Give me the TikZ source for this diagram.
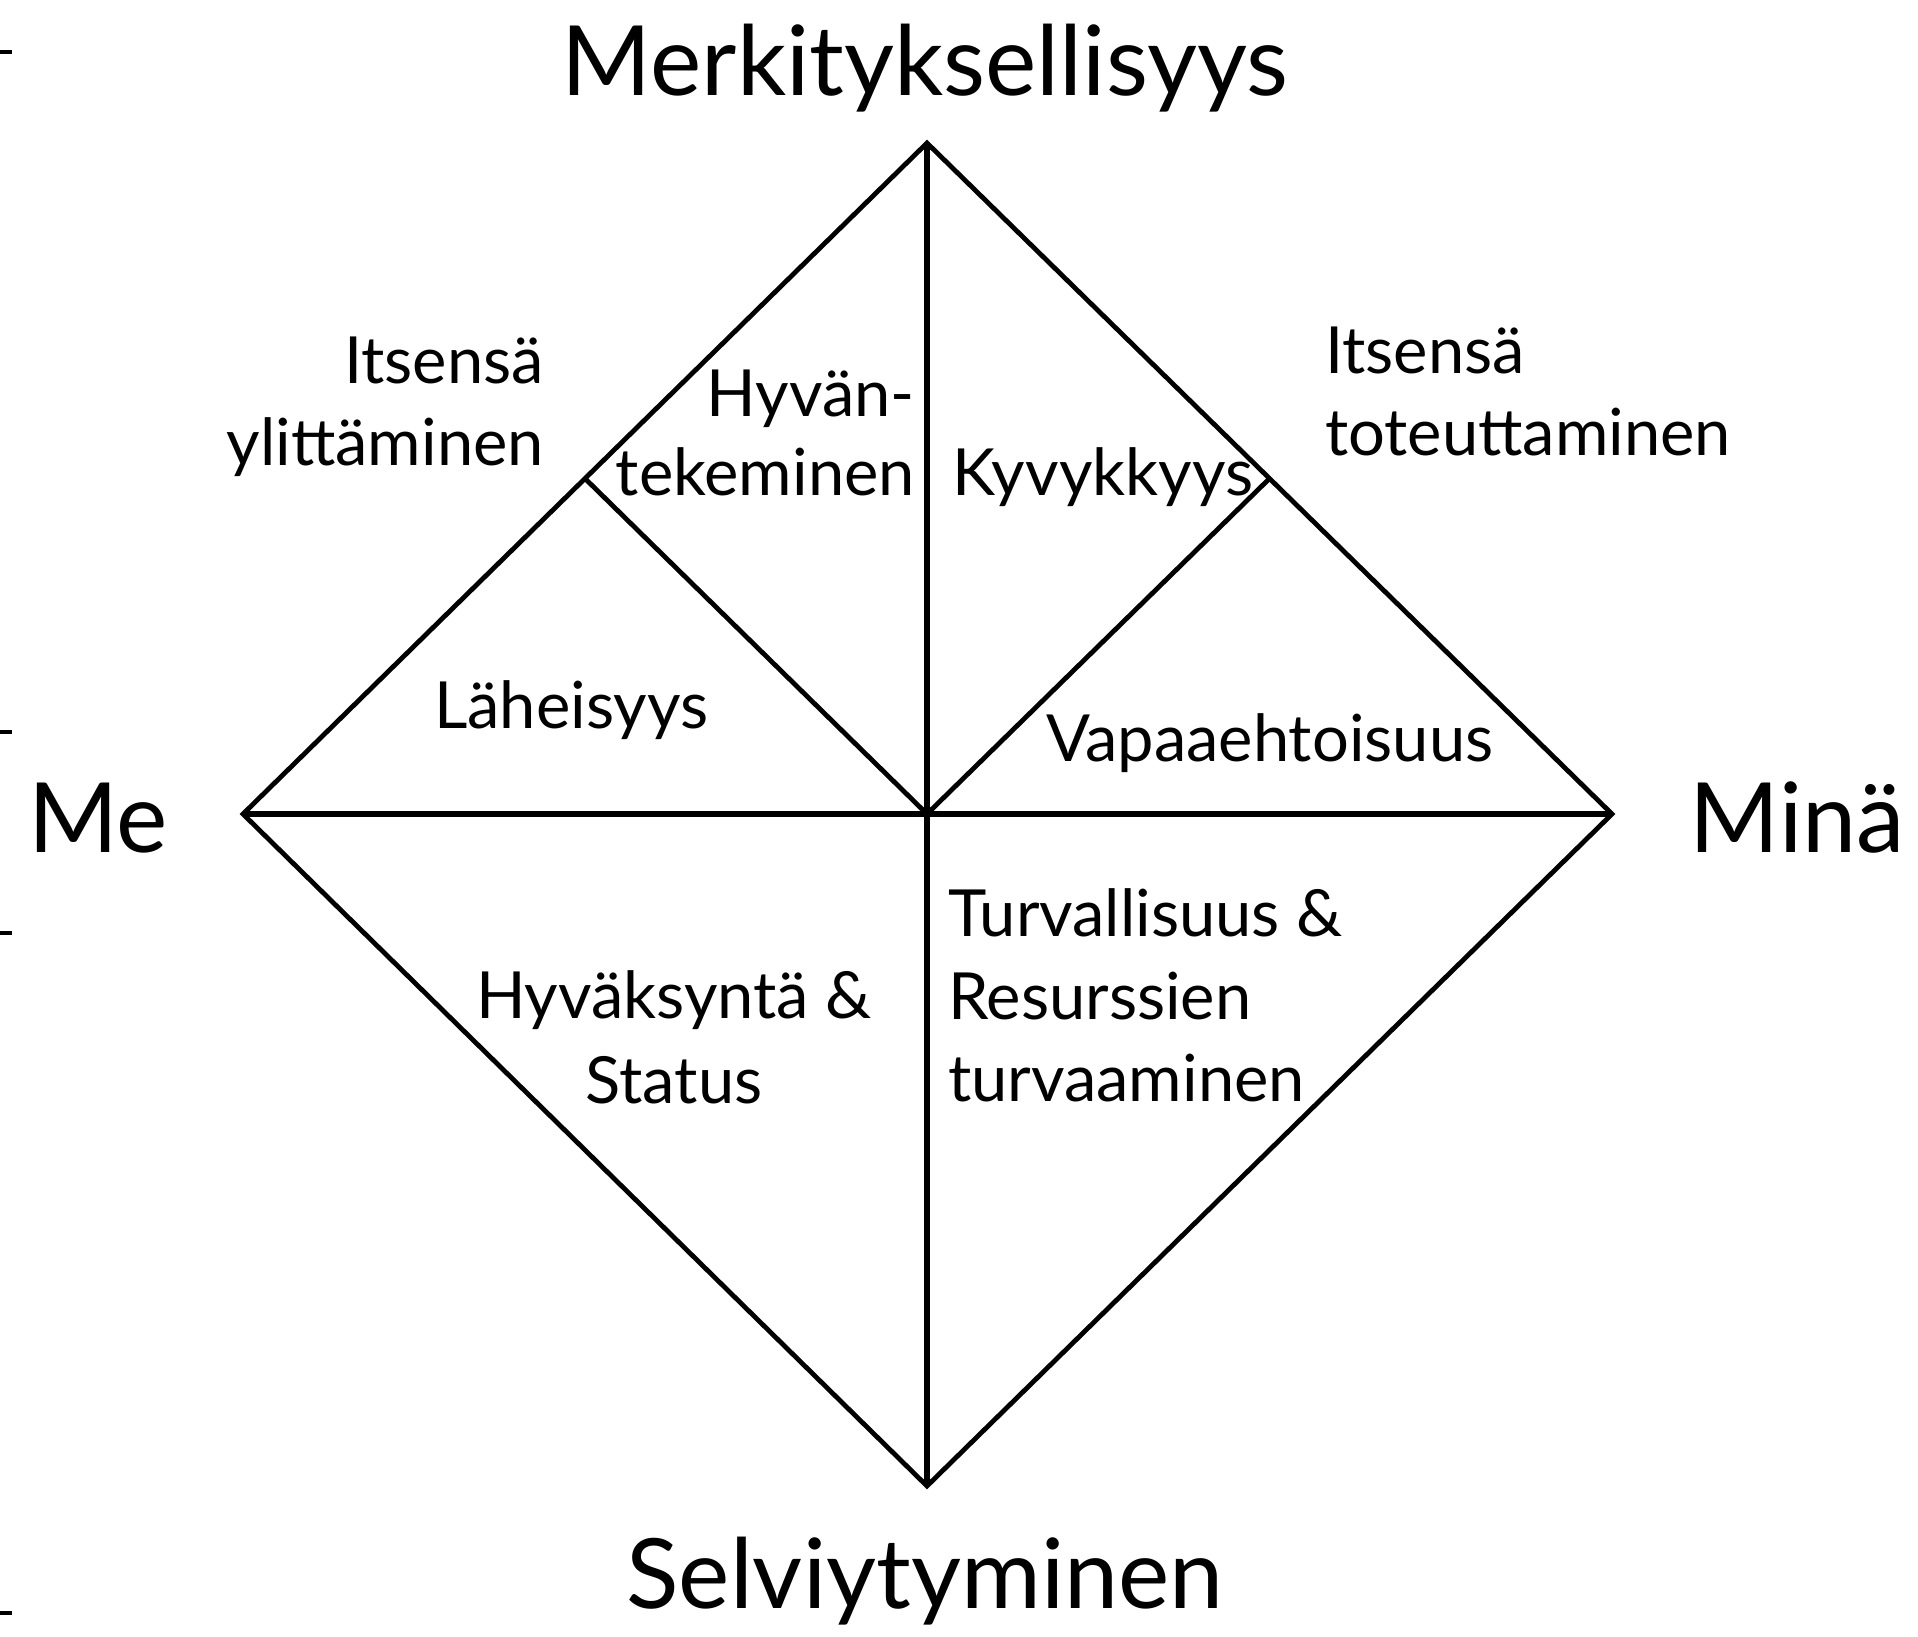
\documentclass[tikz,border=0pt]{standalone}
\usepackage{fontspec}
\setmainfont{Lato}
\usetikzlibrary{calc}
\begin{document}
\begin{tikzpicture}[x=1pt,y=-1pt,
  thinline/.style={line width=4.8pt,line join=miter},
  thickline/.style={line width=6.2pt},
  big/.style={inner sep=0pt,font=\fontsize{97}{110}\selectfont},
  small/.style={inner sep=0pt,font=\fontsize{65}{75}\selectfont},
  tick/.style={line width=4pt}]
\useasboundingbox (0,0) rectangle (1918,1636);
% corners
\coordinate (T) at (927,143);
\coordinate (L) at (243,814);
\coordinate (R) at (1612,814);
\coordinate (B) at (927,1486);
\coordinate (C) at (927,814);
\coordinate (LI) at ($(L)!0.5!(T)$);
\coordinate (RI) at ($(R)!0.5!(T)$);
% ticks on the left edge
\coordinate (t1a) at (0,52);   \coordinate (t1b) at (12,52);
\coordinate (t2a) at (0,732);  \coordinate (t2b) at (12,732);
\coordinate (t3a) at (0,933);  \coordinate (t3b) at (12,933);
\coordinate (t4a) at (0,1613); \coordinate (t4b) at (12,1613);
\draw[tick] (t1a) -- (t1b);
\draw[tick] (t2a) -- (t2b);
\draw[tick] (t3a) -- (t3b);
\draw[tick] (t4a) -- (t4b);
% diamond
\draw[thinline] (T) -- (R) -- (B) -- (L) -- cycle;
\draw[thickline] (T) -- (B);
\draw[thickline] (L) -- (R);
\draw[thinline] (LI) -- (C) -- (RI);
% labels
\node[big,anchor=base] (merk) at (925,95) {Merkityksellisyys};
\node[big,anchor=base] (selv) at (925,1608) {Selviytyminen};
\node[big,anchor=base west] (me) at (28,852) {Me};
\node[big,anchor=base east] (mina) at (1905,852) {Minä};
\node[small,anchor=base east] (its1) at (544,383) {Itsensä};
\node[small,anchor=base east] (ylit) at (544,465) {ylittäminen};
\node[small,anchor=base east] (hyv1) at (915,416) {Hyvän-};
\node[small,anchor=base east] (hyv2) at (915,495) {tekeminen};
\node[small,anchor=base west] (kyv) at (952,495) {Kyvykkyys};
\node[small,anchor=base west] (its2) at (1325,373) {Itsensä};
\node[small,anchor=base west] (tot) at (1325,455) {toteuttaminen};
\node[small,anchor=base west] (lah) at (434,728) {Läheisyys};
\node[small,anchor=base west] (vap) at (1046,761) {Vapaaehtoisuus};
\node[small,anchor=base] (hyk1) at (674,1018) {Hyväksyntä \&};
\node[small,anchor=base] (hyk2) at (674,1103) {Status};
\node[small,anchor=base west] (tur1) at (948,936) {Turvallisuus \&};
\node[small,anchor=base west] (tur2) at (948,1019) {Resurssien};
\node[small,anchor=base west] (tur3) at (948,1101) {turvaaminen};
\end{tikzpicture}
\end{document}
